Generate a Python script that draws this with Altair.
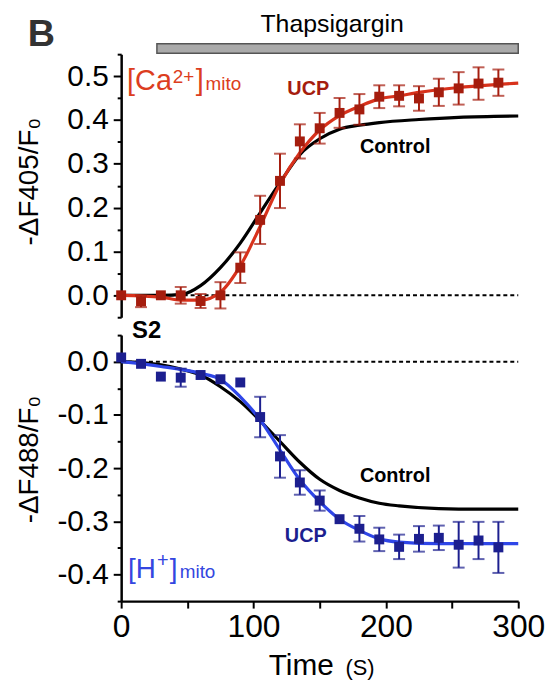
import altair as alt
import pandas as pd

# ---------------- data ----------------
T = [0, 15, 30, 45, 60, 75, 90, 105, 120, 135, 150, 165, 180, 195, 210, 225, 240, 255, 270, 285]

CA_UCP = [0.0, -0.014, 0.0, 0.0, -0.013, 0.0, 0.063, 0.172, 0.261, 0.351, 0.381, 0.416, 0.424,
          0.453, 0.455, 0.449, 0.463, 0.472, 0.483, 0.485]
CA_ERR = [0.0, 0.013, 0.0, 0.019, 0.016, 0.030, 0.035, 0.055, 0.062, 0.039, 0.035, 0.034, 0.035,
          0.026, 0.024, 0.028, 0.031, 0.037, 0.037, 0.030]

CA_UCP_FIT_T = [0, 30, 45, 60, 75, 90, 105, 120, 135, 150, 165, 180, 195, 210, 225, 255, 285, 300]
CA_UCP_FIT = [0.0, -0.004, -0.011, -0.011, 0.007, 0.067, 0.157, 0.254, 0.325, 0.377, 0.410, 0.431,
              0.448, 0.455, 0.463, 0.474, 0.481, 0.484]

CA_CTRL_T = [0, 30, 46, 60, 75, 90, 105, 120, 135, 150, 165, 180, 195, 225, 255, 300]
CA_CTRL = [0.0, 0.0, 0.002, 0.022, 0.063, 0.119, 0.188, 0.257, 0.321, 0.357, 0.379, 0.388, 0.394,
           0.401, 0.406, 0.409]

H_UCP = [0.008, -0.004, -0.028, -0.030, -0.025, -0.033, -0.039, -0.104, -0.178, -0.227, -0.261,
         -0.296, -0.314, -0.334, -0.348, -0.333, -0.331, -0.344, -0.336, -0.349]
H_ERR = [0.0, 0.0, 0.0, 0.017, 0.0, 0.0, 0.0, 0.038, 0.040, 0.023, 0.019, 0.0, 0.024, 0.022, 0.023,
         0.024, 0.023, 0.043, 0.035, 0.048]

H_UCP_FIT_T = [0, 30, 60, 75, 90, 105, 120, 135, 150, 165, 180, 195, 210, 240, 300]
H_UCP_FIT = [0.0, -0.009, -0.022, -0.033, -0.066, -0.109, -0.166, -0.222, -0.263, -0.296, -0.317,
             -0.333, -0.339, -0.342, -0.342]

H_CTRL_T = [0, 30, 45, 60, 75, 90, 105, 120, 135, 150, 165, 180, 195, 210, 240, 270, 300]
H_CTRL = [0.0, -0.006, -0.014, -0.025, -0.047, -0.075, -0.111, -0.150, -0.189, -0.221, -0.242,
          -0.256, -0.266, -0.271, -0.276, -0.277, -0.277]

TOP_TICKS = [-0.05, 0.0, 0.05, 0.1, 0.15, 0.2, 0.25, 0.3, 0.35, 0.4, 0.45, 0.5, 0.55]
BOT_TICKS = [-0.45, -0.4, -0.35, -0.3, -0.25, -0.2, -0.15, -0.1, -0.05, 0.0, 0.05]
X_TICKS = [0, 50, 100, 150, 200, 250, 300]
DRUG_START, DRUG_END = 27, 300

# ---------------- styles ----------------
FONT = "Liberation Sans"
CA_LINE = "#d8321c"
CA_MARK = "#a51d0e"
CA_LABEL = "#dc3d20"
H_LINE = "#2f46e8"
H_MARK = "#1c1f8f"
H_LABEL = "#3446e0"

W = 400
H_TOP = 265
H_BOT = 268

XS = alt.Scale(domain=[0, 300], nice=False, zero=False)
TOP_S = alt.Scale(domain=[-0.05, 0.55], nice=False, zero=False)
BOT_S = alt.Scale(domain=[-0.45, 0.05], nice=False, zero=False)

MAJOR_TEST = "abs(datum.value*10 - round(datum.value*10)) < 0.01"
LABEL_EXPR = MAJOR_TEST + " ? replace(format(datum.value, '.1f'), '\u2212', '-') : ''"


def yaxis(title, ticks, title_y):
    return alt.Axis(
        values=ticks, labelExpr=LABEL_EXPR, title=title,
        tickSize={"condition": {"test": MAJOR_TEST, "value": 8}, "value": 4},
        tickWidth=2, tickColor="black", domainColor="black", domainWidth=2.5,
        labelFont=FONT, labelFontSize=30, labelColor="black", labelPadding=5,
        titleFont=FONT, titleFontSize=28, titleFontWeight="normal", titleColor="black",
        titleX=-84, titleY=title_y, titleBaseline="alphabetic", titleAngle=270,
        grid=False,
    )


TOP_AX = yaxis("-ΔF405/F₀", TOP_TICKS, 128)
BOT_AX = yaxis("-ΔF488/F₀", BOT_TICKS, 125)
XAX_BOT = alt.Axis(
    values=X_TICKS, labelExpr="datum.value % 100 == 0 ? datum.label : ''", title=None,
    tickSize=7, tickWidth=2, tickColor="black", domainColor="black", domainWidth=2.5,
    labelFont=FONT, labelFontSize=32, labelColor="black", labelPadding=4, labelFlush=False,
    grid=False,
)


class Panel:
    def __init__(self, yscale, yax, xax):
        self.yscale, self.yax, self.xax = yscale, yax, xax

    def x(self, f):
        return alt.X(f"{f}:Q", scale=XS, axis=self.xax)

    def y(self, f):
        return alt.Y(f"{f}:Q", scale=self.yscale, axis=self.yax)

    def text(self, t, v, s, color="black", size=20, weight="normal", align="left"):
        return alt.Chart(pd.DataFrame({"t": [t], "v": [v], "s": [s]})).mark_text(
            color=color, fontSize=size, fontWeight=weight, align=align,
            baseline="alphabetic", font=FONT
        ).encode(x=self.x("t"), y=self.y("v"), text="s:N")

    def series(self, ucp, err, fit_t, fit, ctrl_t, ctrl, line_col, mark_col):
        zero = alt.Chart(pd.DataFrame({"t": [0], "t2": [300], "v": [0]})).mark_rule(
            color="black", strokeWidth=2, strokeDash=[4, 3]
        ).encode(x=self.x("t"), x2="t2:Q", y=self.y("v"))
        ctrl_line = alt.Chart(pd.DataFrame({"t": ctrl_t, "v": ctrl})).mark_line(
            color="black", strokeWidth=3.2, interpolate="monotone"
        ).encode(x=self.x("t"), y=self.y("v"))
        fit_line = alt.Chart(pd.DataFrame({"t": fit_t, "v": fit})).mark_line(
            color=line_col, strokeWidth=3.2, interpolate="monotone"
        ).encode(x=self.x("t"), y=self.y("v"))
        pts = pd.DataFrame({"t": T, "v": ucp, "err": err})
        base = alt.Chart(pts).transform_calculate(
            lo="datum.v - datum.err", hi="datum.v + datum.err"
        )
        ebase = base.transform_filter("datum.err > 0")
        bars = ebase.mark_rule(color=mark_col, strokeWidth=2).encode(
            x=self.x("t"), y=self.y("lo"), y2="hi:Q")
        cap_lo = ebase.mark_tick(color=mark_col, orient="horizontal", size=12, thickness=2).encode(
            x=self.x("t"), y=self.y("lo"))
        cap_hi = ebase.mark_tick(color=mark_col, orient="horizontal", size=12, thickness=2).encode(
            x=self.x("t"), y=self.y("hi"))
        sq = base.mark_square(color=mark_col, size=100, opacity=1, filled=True).encode(
            x=self.x("t"), y=self.y("v"))
        return [zero, ctrl_line, fit_line, bars, cap_lo, cap_hi, sq]


# ---------------- top panel ----------------
P1 = Panel(TOP_S, TOP_AX, None)
drug = alt.Chart(pd.DataFrame({"t": [DRUG_START], "t2": [DRUG_END], "v": [0.552], "v2": [0.574]})).mark_rect(
    fill="#aaaaaa", stroke="#555555", strokeWidth=1.5
).encode(x=P1.x("t"), x2="t2:Q", y=P1.y("v"), y2="v2:Q")

top_layers = P1.series(CA_UCP, CA_ERR, CA_UCP_FIT_T, CA_UCP_FIT, CA_CTRL_T, CA_CTRL, CA_LINE, CA_MARK)
top_layers += [
    drug,
    P1.text(159.4, 0.601, "Thapsigargin", size=25, align="center"),
    P1.text(-70.5, 0.5676, "B", color="#333333", size=38, weight="bold"),
    P1.text(4.5, 0.4685, "[Ca", color=CA_LABEL, size=29),
    P1.text(39, 0.485, "2+", color=CA_LABEL, size=19),
    P1.text(56.3, 0.4685, "]", color=CA_LABEL, size=29),
    P1.text(63.8, 0.4685, "mito", color=CA_LABEL, size=19),
    P1.text(141.4, 0.456, "UCP", color=CA_MARK, size=20, weight="bold", align="center"),
    P1.text(207, 0.324, "Control", size=20, weight="bold", align="center"),
]
top = alt.layer(*top_layers).properties(width=W, height=H_TOP)

# ---------------- bottom panel ----------------
P2 = Panel(BOT_S, BOT_AX, XAX_BOT)
bot_layers = P2.series(H_UCP, H_ERR, H_UCP_FIT_T, H_UCP_FIT, H_CTRL_T, H_CTRL, H_LINE, H_MARK)
bot_layers += [
    P2.text(8.25, 0.0445, "S2", size=24, weight="bold"),
    P2.text(5.25, -0.406, "[H", color=H_LABEL, size=28),
    P2.text(27, -0.385, "+", color=H_LABEL, size=20),
    P2.text(36.75, -0.406, "]", color=H_LABEL, size=28),
    P2.text(44.25, -0.406, "mito", color=H_LABEL, size=19),
    P2.text(139.5, -0.338, "UCP", color=H_MARK, size=20, weight="bold", align="center"),
    P2.text(207, -0.2257, "Control", size=20, weight="bold", align="center"),
    P2.text(136.1, -0.588, "Time", size=30, align="center"),
    P2.text(180.4, -0.588, "(S)", size=22, align="center"),
]
bottom = alt.layer(*bot_layers).properties(width=W, height=H_BOT)

chart = alt.vconcat(top, bottom, spacing=18, bounds="flush").properties(
    padding={"left": 8, "top": 1, "right": 5, "bottom": 5}, background="white"
).configure_view(stroke=None)

chart.save("out.html", embed_options={"renderer": "svg", "actions": False})
